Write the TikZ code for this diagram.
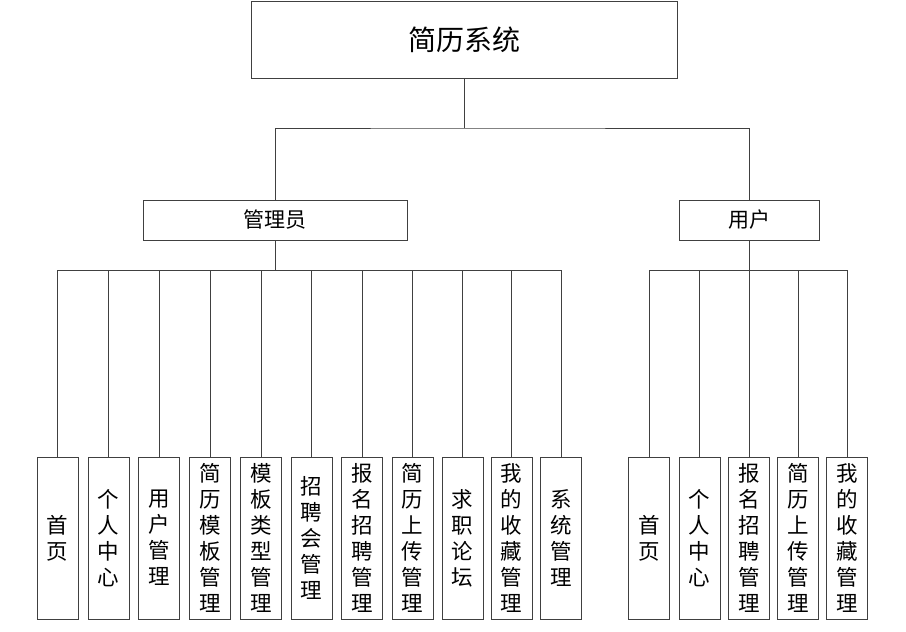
\documentclass[tikz,border=0pt]{standalone}
\usepackage{fontspec}
\newfontfamily\cjk{Noto Sans CJK SC}
\begin{document}
\begin{tikzpicture}[x=1pt,y=-1pt,
  box/.style={draw=black!75, line width=0.8pt, inner sep=0pt, fill=white},
  leaf/.style={box, minimum width=41pt, minimum height=162pt, align=center, font=\cjk\fontsize{21.5}{26}\selectfont},
  conn/.style={draw=black!75, line width=0.8pt}]
\useasboundingbox (0,0) rectangle (906,632);
\node[box, minimum width=426pt, minimum height=77pt, font=\cjk\fontsize{28}{30}\selectfont] (root) at (464,39.5) {简历系统};
\node[box, minimum width=264pt, minimum height=40pt, font=\cjk\fontsize{21}{24}\selectfont] (admin) at (275,220) {管理员};
\node[box, minimum width=140pt, minimum height=40pt, font=\cjk\fontsize{21}{24}\selectfont] (user) at (749,220) {用户};
\coordinate (jt) at (464,128);
\coordinate (ja) at (275,270);
\coordinate (ju) at (749,270);
\draw[conn] (root.south) -- (jt);
\draw[conn] (admin.north) |- (jt) -| (user.north);
\draw[conn] (admin.south) -- (ja);
\draw[conn] (user.south) -- (ju);
\foreach \i/\x/\t in {1/57.5/首\\页, 2/108.5/个\\人\\中\\心, 3/159/用\\户\\管\\理, 4/210/简\\历\\模\\板\\管\\理, 5/261/模\\板\\类\\型\\管\\理, 6/311.5/招\\聘\\会\\管\\理, 7/362/报\\名\\招\\聘\\管\\理, 8/412.5/简\\历\\上\\传\\管\\理, 9/462.5/求\\职\\论\\坛, 10/511.5/我\\的\\收\\藏\\管\\理, 11/561/系\\统\\管\\理}{
  \node[leaf] (a\i) at (\x,538) {\t};
  \draw[conn] (a\i.north) -- (a\i.north |- ja);
}
\draw[conn] (a1.north |- ja) -- (a11.north |- ja);
\foreach \i/\x/\t in {1/649/首\\页, 2/699.5/个\\人\\中\\心, 3/749/报\\名\\招\\聘\\管\\理, 4/798/简\\历\\上\\传\\管\\理, 5/847/我\\的\\收\\藏\\管\\理}{
  \node[leaf] (u\i) at (\x,538) {\t};
  \draw[conn] (u\i.north) -- (u\i.north |- ju);
}
\draw[conn] (u1.north |- ju) -- (u5.north |- ju);
\end{tikzpicture}
\end{document}
